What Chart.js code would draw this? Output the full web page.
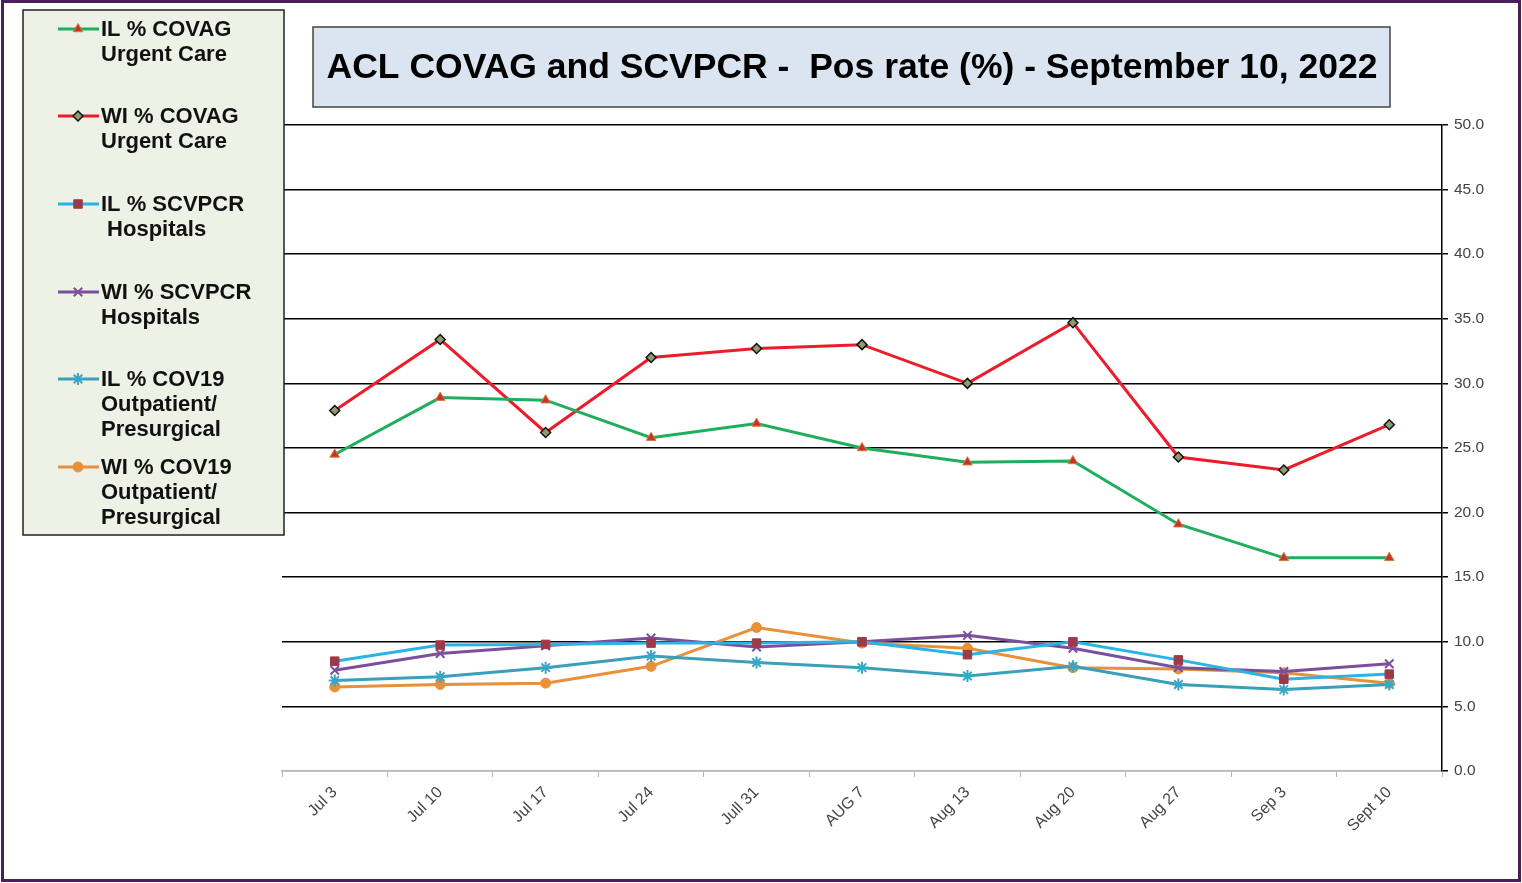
<!DOCTYPE html>
<html><head><meta charset="utf-8">
<script src="https://cdn.jsdelivr.net/npm/chart.js@4.4.0/dist/chart.umd.min.js"></script>
<style>html,body{margin:0;padding:0;background:#fff;} canvas{display:block;}</style>
</head><body>
<canvas id="c" width="1522" height="883"></canvas>
<script>
const categories = ['Jul 3','Jul 10','Jul 17','Jul 24','Jull 31','AUG 7','Aug 13','Aug 20','Aug 27','Sep 3','Sept 10'];
const ilCovagUrgent = [24.5, 28.9, 28.7, 25.8, 26.9, 25.0, 23.9, 24.0, 19.1, 16.5, 16.5];
const wiCovagUrgent = [27.9, 33.4, 26.2, 32.0, 32.7, 33.0, 30.0, 34.7, 24.3, 23.3, 26.8];
const ilScvpcrHosp  = [8.5, 9.75, 9.8, 9.9, 9.9, 10.0, 9.0, 10.0, 8.6, 7.1, 7.5];
const wiScvpcrHosp  = [7.8, 9.1, 9.7, 10.3, 9.6, 10.0, 10.5, 9.5, 8.0, 7.7, 8.3];
const ilCov19Outpt  = [7.0, 7.3, 8.0, 8.9, 8.4, 8.0, 7.35, 8.1, 6.7, 6.3, 6.7];
const wiCov19Outpt  = [6.5, 6.7, 6.8, 8.1, 11.1, 9.9, 9.5, 8.0, 7.9, 7.6, 6.8];
const seriesLabels = ['IL % COVAG Urgent Care','WI % COVAG Urgent Care','IL % SCVPCR Hospitals','WI % SCVPCR Hospitals','IL % COV19 Outpatient/ Presurgical','WI % COV19 Outpatient/ Presurgical'];
const legendLines = [
  ['IL % COVAG','Urgent Care'],
  ['WI % COVAG','Urgent Care'],
  ['IL % SCVPCR',' Hospitals'],
  ['WI % SCVPCR','Hospitals'],
  ['IL % COV19','Outpatient/','Presurgical'],
  ['WI % COV19','Outpatient/','Presurgical']
];
const titleText = 'ACL COVAG and SCVPCR -  Pos rate (%) - September 10, 2022';
const yMin = 0, yMax = 50, yStep = 5;

const FONT = 'Arial, "Liberation Sans", sans-serif';

function ds(label, data, line, style, fill, stroke, radius, bw) {
  return {
    label, data,
    borderColor: line, backgroundColor: fill,
    borderWidth: 3, tension: 0,
    pointStyle: style, pointRadius: radius, pointHoverRadius: radius,
    pointBackgroundColor: fill, pointBorderColor: stroke, pointBorderWidth: bw
  };
}

const datasets = [
  ds(seriesLabels[0], ilCovagUrgent, '#1fae5e', 'triangle', '#c8322a', '#d27a3a', 5.5, 1),
  ds(seriesLabels[1], wiCovagUrgent, '#ec1c2a', 'rectRot', '#8d9c6a', '#111', 5, 1.5),
  ds(seriesLabels[2], ilScvpcrHosp, '#2ab4e6', 'rect', '#9c3a48', '#9c3a48', 6, 1),
  ds(seriesLabels[3], wiScvpcrHosp, '#7a4f9c', 'crossRot', '#7a4f9c', '#7a4f9c', 6, 2),
  ds(seriesLabels[4], ilCov19Outpt, '#3a9fb9', 'star', '#3aa6c6', '#3aa6c6', 6, 2),
  ds(seriesLabels[5], wiCov19Outpt, '#e8903a', 'circle', '#e8903a', '#e8903a', 5, 1)
];

function drawMarker(ctx, d, x, y) {
  ctx.save();
  ctx.fillStyle = d.pointBackgroundColor;
  ctx.strokeStyle = d.pointBorderColor;
  ctx.lineWidth = d.pointBorderWidth;
  Chart.helpers.drawPoint(ctx, {pointStyle: d.pointStyle, radius: d.pointRadius, rotation: 0, borderWidth: d.pointBorderWidth}, x, y);
  ctx.restore();
}

const decor = {
  id: 'decor',
  afterDraw(chart) {
    const ctx = chart.ctx;
    // title box
    ctx.save();
    ctx.fillStyle = '#dbe5f1';
    ctx.fillRect(313, 27, 1077, 80);
    ctx.strokeStyle = '#444';
    ctx.lineWidth = 1.5;
    ctx.strokeRect(313, 27, 1077, 80);
    ctx.fillStyle = '#000';
    ctx.font = 'bold 35.5px ' + FONT;
    ctx.textAlign = 'center';
    ctx.textBaseline = 'middle';
    ctx.fillText(titleText, 852, 68);
    ctx.restore();

    // legend box
    ctx.save();
    ctx.fillStyle = '#eef1e6';
    ctx.fillRect(23, 10, 261, 525);
    ctx.strokeStyle = '#222';
    ctx.lineWidth = 1.5;
    ctx.strokeRect(23, 10, 261, 525);
    const tops = [29, 116, 204, 292, 379, 467];
    const lh = 25;
    chart.data.datasets.forEach((d, i) => {
      const y = tops[i];
      ctx.strokeStyle = d.borderColor;
      ctx.lineWidth = 3;
      ctx.beginPath();
      ctx.moveTo(58, y); ctx.lineTo(99, y); ctx.stroke();
      drawMarker(ctx, d, 78, y);
      ctx.fillStyle = '#111';
      ctx.font = 'bold 22px ' + FONT;
      ctx.textAlign = 'left';
      ctx.textBaseline = 'middle';
      legendLines[i].forEach((t, k) => {
        ctx.fillText(t, 101, y + k * lh + 1);
      });
    });
    ctx.restore();

    // outer frame
    ctx.save();
    ctx.strokeStyle = '#4a1d5c';
    ctx.lineWidth = 3;
    ctx.strokeRect(2.5, 1.5, 1517, 879);
    ctx.restore();
  }
};

new Chart(document.getElementById('c'), {
  type: 'line',
  data: { labels: categories, datasets },
  options: {
    responsive: false,
    animation: false,
    events: [],
    layout: { padding: { left: 282, top: 125, right: 0, bottom: 0 } },
    plugins: { legend: { display: false }, title: { display: false }, tooltip: { enabled: false } },
    scales: {
      x: {
        offset: true,
        grid: { offset: true, drawOnChartArea: false, drawTicks: true, tickLength: 6, color: '#b5b5b5', lineWidth: 1 },
        border: { display: true, color: '#b5b5b5', width: 1.5 },
        ticks: { minRotation: 45, maxRotation: 45, autoSkip: false, color: '#444', font: { family: FONT, size: 16 }, padding: 6 },
        afterFit(s) { s.height = 112; }
      },
      y: {
        position: 'right',
        min: yMin, max: yMax,
        grid: {
          color: (c) => c.tick && c.tick.value === 0 ? '#b5b5b5' : '#000',
          lineWidth: 1.5,
          drawTicks: true, tickLength: 6, tickColor: '#000'
        },
        border: { display: true, color: '#000', width: 1.5 },
        ticks: { stepSize: yStep, color: '#444', font: { family: FONT, size: 15.5 }, padding: 6,
          callback: (v) => Number(v).toFixed(1) },
        afterFit(s) { s.width = 80; }
      }
    }
  },
  plugins: [decor]
});
</script>
</body></html>
